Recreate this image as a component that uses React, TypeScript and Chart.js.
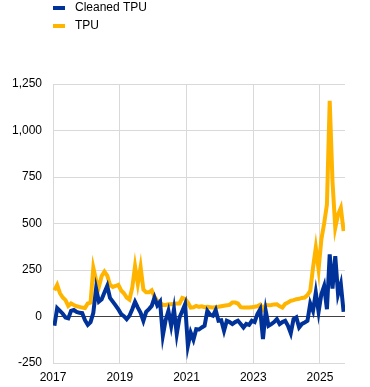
import React, { useEffect, useRef } from "react";
import { Chart, registerables } from "chart.js";

Chart.register(...registerables);

// Monthly observations, Jan 2017 – Sep 2025
const startYear = 2017;
const seriesNames = ["Cleaned TPU", "TPU"];
const seriesColors = ["#003299", "#FFB400"];

const cleanedTPU = [
  -50, 45, 30, 15, -5, -10, 30, 35, 25, 20,
  18, -20, -45, -30, 20, 150, 80, 93, 129, 164,
  100, 80, 60, 39, 13, 2, -14, 4, 39, 79,
  48, 20, -23, 25, 40, 57, 102, 60, 80, -103,
  -20, 30, -50, 39, -94, -5, 30, 66, -157, -86,
  -125, -68, -70, -59, -50, 30, 10, 4, 35, -23,
  -20, -77, -23, -30, -41, -30, -23, -40, -59, -40,
  -45, -23, -30, 13, 39, -121, 30, -50, -41, -30,
  -14, -41, -30, -23, -50, -90, -14, -5, -59, -40,
  -32, -23, 70, 30, 129, 25, 120, 164, 39, 334,
  150, 325, 120, 175, 25,
];

const tpu = [
  140, 170, 125, 102, 88, 57, 70, 62, 55, 52,
  48, 45, 70, 75, 262, 195, 160, 218, 241, 220,
  170, 159, 164, 170, 140, 125, 102, 91, 155, 271,
  175, 266, 145, 130, 130, 141, 105, 85, 75, 62,
  62, 66, 66, 68, 70, 70, 100, 95, 75, 48,
  50, 57, 52, 55, 50, 52, 50, 48, 50, 52,
  55, 58, 60, 63, 75, 75, 70, 50, 48, 48,
  48, 50, 52, 55, 63, 38, 63, 60, 62, 65,
  66, 55, 48, 68, 75, 84, 88, 93, 95, 100,
  102, 115, 138, 262, 370, 254, 415, 500, 602, 1159,
  727, 477, 548, 584, 459,
];

const yTicks = [-250, 0, 250, 500, 750, 1000, 1250];
const xTickYears = [2017, 2019, 2021, 2023, 2025];

const FONT = "'Liberation Sans', Arial, sans-serif";

const toPoints = (vals: number[]) =>
  vals.map((v, i) => ({ x: startYear + (i + 0.5) / 12, y: v }));

const legendPlugin = {
  id: "customLegend",
  afterDraw(chart: any) {
    const ctx = chart.ctx;
    const left = chart.chartArea.left;
    ctx.save();
    ctx.font = `12px ${FONT}`;
    ctx.textBaseline = "middle";
    chart.data.datasets.forEach((ds: any, i: number) => {
      const y = 8 + i * 18;
      ctx.fillStyle = ds.borderColor;
      ctx.fillRect(left, y - 2, 12, 4);
      ctx.fillStyle = "#000000";
      ctx.fillText(ds.label, left + 22, y);
    });
    ctx.restore();
  },
};

export default function App() {
  const ref = useRef<HTMLCanvasElement | null>(null);

  useEffect(() => {
    document.body.style.margin = "0";
    const canvas = ref.current!;
    const chart = new Chart(canvas, {
      type: "line",
      data: {
        datasets: [
          {
            label: seriesNames[0],
            data: toPoints(cleanedTPU),
            borderColor: seriesColors[0],
            backgroundColor: seriesColors[0],
            borderWidth: 4,
            pointRadius: 0,
            tension: 0,
          },
          {
            label: seriesNames[1],
            data: toPoints(tpu),
            borderColor: seriesColors[1],
            backgroundColor: seriesColors[1],
            borderWidth: 4,
            pointRadius: 0,
            tension: 0,
          },
        ],
      },
      options: {
        animation: false,
        responsive: false,
        maintainAspectRatio: false,
        layout: { padding: { top: 84, right: 25, left: 0, bottom: 0 } },
        plugins: {
          legend: { display: false },
          tooltip: { enabled: false },
        },
        scales: {
          x: {
            type: "linear",
            min: startYear,
            max: 2025.75,
            afterBuildTicks: (scale: any) => {
              scale.ticks = xTickYears.map((v) => ({ value: v }));
            },
            afterFit: (scale: any) => {
              scale.height = 24;
            },
            ticks: {
              font: { family: FONT, size: 12 },
              color: "#000000",
              padding: 7,
              maxRotation: 0,
              callback: (v: any) => String(v),
            },
            grid: { color: "#d9d9d9", lineWidth: 1, drawTicks: false },
            border: { display: false },
          },
          y: {
            min: -250,
            max: 1250,
            afterBuildTicks: (scale: any) => {
              scale.ticks = yTicks.map((v) => ({ value: v }));
            },
            afterFit: (scale: any) => {
              scale.width = 53;
            },
            ticks: {
              font: { family: FONT, size: 12 },
              color: "#000000",
              padding: 11,
              callback: (v: any) => Number(v).toLocaleString("en-US"),
            },
            grid: {
              color: (c: any) => (c.tick && c.tick.value === 0 ? "#404040" : "#d9d9d9"),
              lineWidth: 1,
              drawTicks: false,
            },
            border: { display: true, color: "#d9d9d9" },
          },
        },
      },
      plugins: [legendPlugin],
    } as any);
    return () => chart.destroy();
  }, []);

  return (
    <div style={{ width: 370, height: 387 }}>
      <canvas ref={ref} width={370} height={387} style={{ display: "block" }} />
    </div>
  );
}
